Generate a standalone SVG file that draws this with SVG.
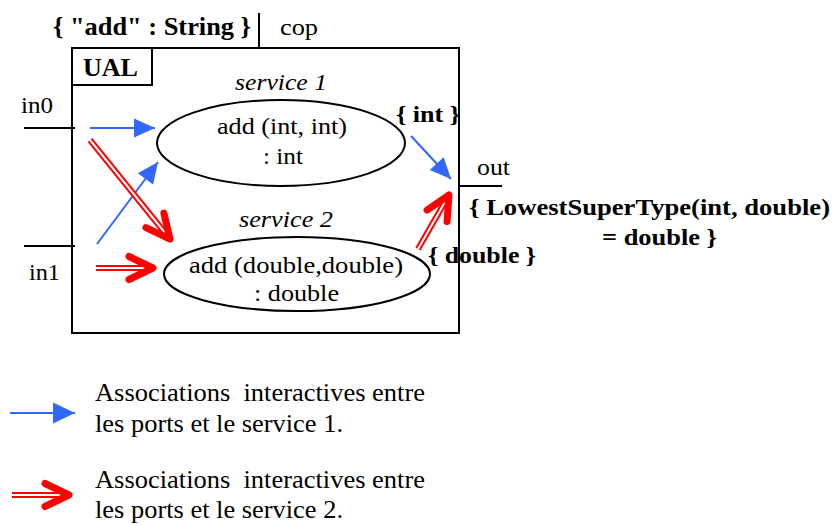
<svg xmlns="http://www.w3.org/2000/svg" width="833" height="525" viewBox="0 0 833 525">
  <style>
    text { font-family: 'Liberation Serif', 'Times New Roman', Times, serif; fill: #000; }
    .reg { font-size: 23px; }
    .it { font-size: 23px; font-style: italic; }
    .bd { font-size: 24px; font-weight: bold; }
    .lg { font-size: 25px; }
    .frame { fill: #fff; stroke: #000; stroke-width: 2; }
    .port { stroke: #000; stroke-width: 2; fill: none; }
    .svc { fill: #fff; stroke: #000; stroke-width: 2; }
    .blue { stroke: #3366ff; stroke-width: 2; fill: none; marker-end: url(#tri); }
    .dbl-out { stroke: #ff0000; stroke-width: 6; fill: none; }
    .dbl-in { stroke: #fff; stroke-width: 2; fill: none; marker-end: url(#chev); }
  </style>
  <defs>
    <marker id="tri" markerUnits="userSpaceOnUse" orient="auto" refX="0" refY="0" markerWidth="30" markerHeight="30" overflow="visible">
      <path d="M -21 -9.5 L 0 0 L -21 9.5 Z" fill="#3366ff"/>
    </marker>
    <marker id="tri2" markerUnits="userSpaceOnUse" orient="auto" refX="0" refY="0" markerWidth="30" markerHeight="30" overflow="visible">
      <path d="M -22 -10.5 L 0 0 L -22 10.5 Z" fill="#3366ff"/>
    </marker>
    <marker id="chev" markerUnits="userSpaceOnUse" orient="auto" refX="0" refY="0" markerWidth="40" markerHeight="40" overflow="visible">
      <path d="M -24 -11.5 L 0 0 L -24 11.5" fill="none" stroke="#ff0000" stroke-width="7" stroke-linecap="round" stroke-linejoin="round"/>
    </marker>
  </defs>

  <!-- component frame -->
  <g id="ual">
    <rect class="frame" x="72" y="48" width="387" height="285"/>
    <rect class="frame" x="72" y="48" width="80" height="37"/>
    <text class="bd" x="83" y="76" style="font-size:25px" textLength="55" lengthAdjust="spacingAndGlyphs">UAL</text>
  </g>

  <!-- control port -->
  <g id="cop">
    <line class="port" x1="259" y1="13" x2="259" y2="48"/>
    <text class="bd" x="53" y="35" style="font-size:25px" textLength="198" lengthAdjust="spacingAndGlyphs">{ "add" : String }</text>
    <text class="reg" x="280" y="35" style="font-size:24px" textLength="38" lengthAdjust="spacingAndGlyphs">cop</text>
  </g>

  <!-- input / output ports -->
  <g id="in0">
    <line class="port" x1="24" y1="128" x2="75" y2="128"/>
    <text class="reg" x="21" y="113" textLength="32" lengthAdjust="spacingAndGlyphs">in0</text>
  </g>
  <g id="in1">
    <line class="port" x1="24" y1="246" x2="75" y2="246"/>
    <text class="reg" x="29" y="280" textLength="31" lengthAdjust="spacingAndGlyphs">in1</text>
  </g>
  <g id="out">
    <line class="port" x1="459" y1="186" x2="502" y2="186"/>
    <text class="reg" x="477" y="175" textLength="33" lengthAdjust="spacingAndGlyphs">out</text>
    <text class="bd" x="469" y="215" textLength="361" lengthAdjust="spacingAndGlyphs">{ LowestSuperType(int, double)</text>
    <text class="bd" x="602" y="245" textLength="115" lengthAdjust="spacingAndGlyphs">= double }</text>
  </g>

  <!-- services -->
  <g id="service1">
    <text class="it" x="235" y="90" textLength="92" lengthAdjust="spacingAndGlyphs">service 1</text>
    <ellipse class="svc" cx="281" cy="143" rx="124" ry="43"/>
    <text class="reg" x="217" y="134" textLength="130" lengthAdjust="spacingAndGlyphs">add (int, int)</text>
    <text class="reg" x="263" y="164" textLength="40" lengthAdjust="spacingAndGlyphs">: int</text>
  </g>
  <g id="service2">
    <text class="it" x="239" y="227" textLength="94" lengthAdjust="spacingAndGlyphs">service 2</text>
    <ellipse class="svc" cx="297" cy="274" rx="133" ry="37"/>
    <text class="reg" x="189" y="273" textLength="214" lengthAdjust="spacingAndGlyphs">add (double,double)</text>
    <text class="reg" x="254" y="301" textLength="85" lengthAdjust="spacingAndGlyphs">: double</text>
  </g>

  <!-- associations -->
  <g id="connectors">
    <path class="blue" d="M 90 128 L 155 128"/>
    <path class="blue" d="M 97 244 L 158 162"/>
    <path class="blue" d="M 411 136 L 451 179"/>

    <path class="dbl-out" d="M 90 140 L 170 239"/>
    <path class="dbl-in" d="M 90 140 L 170 239"/>
    <path class="dbl-out" d="M 96 268 L 153 268"/>
    <path class="dbl-in" d="M 96 268 L 153 268"/>
    <path class="dbl-out" d="M 418 249 L 449 195"/>
    <path class="dbl-in" d="M 418 249 L 449 195"/>
  </g>

  <!-- type annotations on the service outputs -->
  <text class="bd" x="396" y="122" textLength="64" lengthAdjust="spacingAndGlyphs">{ int }</text>
  <text class="bd" x="428" y="263" textLength="108" lengthAdjust="spacingAndGlyphs">{ double }</text>

  <!-- legend -->
  <g id="legend">
    <path class="blue" d="M 10 413 L 75 413" style="marker-end:url(#tri2)"/>
    <text class="lg" x="95" y="401" xml:space="preserve" textLength="330" lengthAdjust="spacingAndGlyphs">Associations  interactives entre</text>
    <text class="lg" x="95" y="432" textLength="248" lengthAdjust="spacingAndGlyphs">les ports et le service 1.</text>
    <path class="dbl-out" d="M 12 495 L 69 495"/>
    <path class="dbl-in" d="M 12 495 L 69 495"/>
    <text class="lg" x="95" y="488" xml:space="preserve" textLength="330" lengthAdjust="spacingAndGlyphs">Associations  interactives entre</text>
    <text class="lg" x="95" y="518" textLength="248" lengthAdjust="spacingAndGlyphs">les ports et le service 2.</text>
  </g>
</svg>
